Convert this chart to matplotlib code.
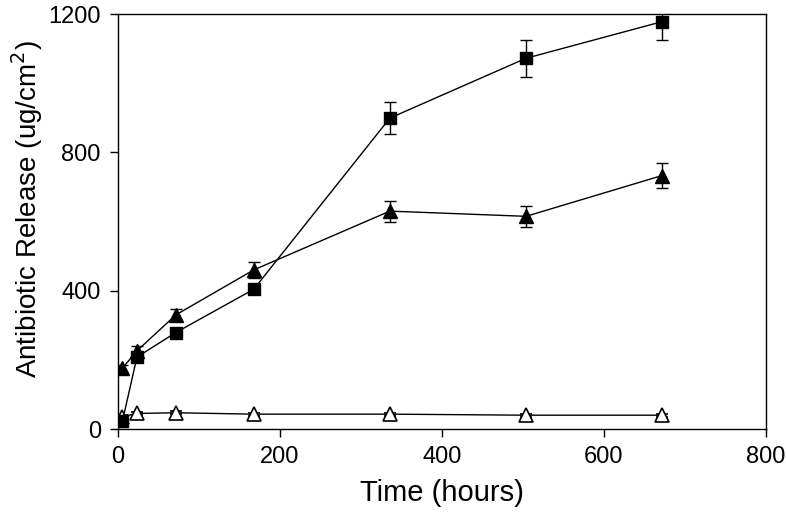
import matplotlib
matplotlib.use("Agg")
from matplotlib import pyplot as plt

# sampling times (hours)
time_h = [6, 24, 72, 168, 336, 504, 672]

# filled squares
square_vals = [22, 208, 279, 404, 899, 1072, 1178]
square_err = [6, 12, 10, 12, 46, 53, 52]

# filled triangles
tri_vals = [176, 226, 330, 460, 630, 615, 733]
tri_err = [10, 13, 16, 24, 30, 31, 37]

# open triangles
open_vals = [36, 45, 47, 43, 43, 40, 40]
open_err = [4, 4, 4, 4, 4, 4, 4]

plt.rcParams['font.family'] = ['Liberation Sans', 'DejaVu Sans']

fig = plt.figure(figsize=(7.86, 5.13), dpi=100)
ax = fig.add_axes([0.1495, 0.1637, 0.825, 0.809])

common = dict(color='black', linewidth=1.0, elinewidth=1.0, capsize=4, capthick=1.0)
ax.errorbar(time_h, open_vals, yerr=open_err, fmt='-^', markersize=10,
            markerfacecolor='white', markeredgecolor='black', markeredgewidth=1.2, **common)
ax.errorbar(time_h, tri_vals, yerr=tri_err, fmt='-^', markersize=10,
            markerfacecolor='black', markeredgecolor='black', **common)
ax.errorbar(time_h, square_vals, yerr=square_err, fmt='-s', markersize=9,
            markerfacecolor='black', markeredgecolor='black', **common)

ax.set_xlim(0, 800)
ax.set_ylim(0, 1200)
ax.set_xticks([0, 200, 400, 600, 800])
ax.set_yticks([0, 400, 800, 1200])
ax.tick_params(direction='out', length=6, width=1, labelsize=17, pad=6)
for s in ax.spines.values():
    s.set_linewidth(1.0)

ax.set_xlabel('Time (hours)', fontsize=21, labelpad=8)
ax.set_ylabel('Antibiotic Release (ug/cm$^2$)', fontsize=20)
ax.yaxis.set_label_coords(-0.112, 0.53)

plt.savefig('out.png', dpi=100)
